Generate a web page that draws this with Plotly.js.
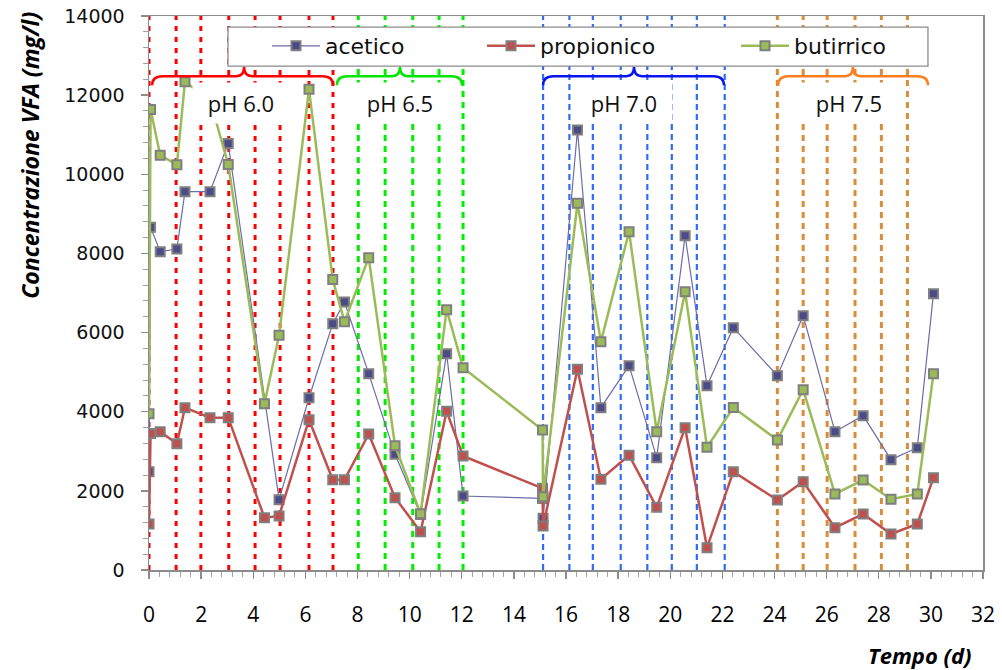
<!DOCTYPE html>
<html>
<head>
<meta charset="utf-8">
<script src="https://cdn.plot.ly/plotly-3.0.1.min.js"></script>
<style>html,body{margin:0;padding:0;background:#fff;}#chart{width:1002px;height:670px;}</style>
</head>
<body>
<div id="chart"></div>
<script>
// ---- data ----
var days = [0, 0.06, 0.43, 1.07, 1.38, 2.34, 3.04, 4.43, 4.99, 6.14, 7.05, 7.5, 8.43, 9.44, 10.42, 11.42, 12.05,
            15.1, 15.12, 16.44, 17.34, 18.42, 19.48, 20.57, 21.41, 22.42, 24.11, 25.1, 26.32, 27.4, 28.47, 29.48, 30.1];
var acetico = [2480, 8660, 8045, 8110, 9560, 9560, 10780, null, 1777, 4354, 6225, 6773, 4962, 2923, 1400, 5467, 1870,
               1810, 1306, 11120, 4102, 5163, 2839, 8449, 4658, 6124, 4911, 6427, 3496, 3900, 2788, 3091, 6983];
var propionico = [1163, 3450, 3495, 3192, 4102, 3849, 3849, 1322, 1365, 3798, 2280, 2280, 3437, 1828, 968, 4010, 2881,
                  2065, 1112, 5072, 2292, 2899, 1584, 3596, 564, 2485, 1769, 2232, 1070, 1415, 910, 1163, 2333];
var butirrico = [3950, 11640, 10480, 10243, 12340, 11880, 10250, 4203, 5931, 12148, 7340, 6275, 7893, 3142, 1424, 6579, 5113,
                 3538, 1852, 9267, 5770, 8550, 3496, 7034, 3101, 4107, 3285, 4557, 1921, 2274, 1787, 1921, 4961];

var seriesNames = ['acetico', 'propionico', 'butirrico'];

// pH phases: sampling-day dashed lines, brace spans, labels
var phaseLabels = ['pH 6.0', 'pH 6.5', 'pH 7.0', 'pH 7.5'];
var phaseLines = [
  [0, 1.04, 1.99, 3.06, 4.07, 5.03, 6.14, 7.06],
  [8.03, 9.06, 10.12, 11.13, 12.05],
  [15.12, 16.13, 17.03, 18.1, 19.12, 20.06, 21.02, 22.09],
  [24.11, 25.1, 26.02, 27.09, 28.1, 29.1]
];
var braceStart = [0.12, 7.21, 15.12, 24.14];
var braceEnd = [7.06, 12.01, 22.06, 29.89];
var braceMid = [3.65, 9.63, 18.61, 27.01];
var labelX = [3.53, 9.63, 18.23, 26.86];

// ---- styles ----
var lineColors = ['#FF0000', '#00EE00', '#2F6BF7', '#D98D3C'];
var lineDash = ['5px,6px', '6px,5px', '6px,4px', '6px,5px'];
var lineWidth = [3, 3, 2.2, 3];
var braceColors = ['#FF0000', '#00E600', '#0A14F0', '#FF7F1E'];

var markerFill = ['#4B4B8A', '#C0504D', '#9BBB59'];
var traceLine = ['#6C6CA8', '#C0504D', '#9BBB59'];
var traceWidth = [1.2, 2.5, 2.5];
var vals = [acetico, propionico, butirrico];
var legendIds = ['legend', 'legend2', 'legend3'];

var traces = seriesNames.map(function (n, i) {
  return {
    type: 'scatter', mode: 'lines+markers', name: n,
    x: days, y: vals[i], connectgaps: true,
    legend: legendIds[i],
    line: {color: traceLine[i], width: traceWidth[i]},
    marker: {symbol: 'square', size: 9, color: markerFill[i], line: {color: '#7F7F7F', width: 2}}
  };
});

var shapes = [];
phaseLines.forEach(function (arr, p) {
  arr.forEach(function (d) {
    shapes.push({type: 'line', xref: 'x', yref: 'paper', x0: d, x1: d, y0: 0, y1: 1, layer: 'between',
      line: {color: lineColors[p], width: lineWidth[p], dash: lineDash[p]}});
  });
});

function bracePath(x0, x1, xm) {
  var yE = 12250, yM = 12480, yP = 12710, r = 0.4, rp = 0.3;
  return 'M' + x0 + ',' + yE +
    ' Q' + x0 + ',' + yM + ' ' + (x0 + r) + ',' + yM +
    ' L' + (xm - rp) + ',' + yM +
    ' Q' + xm + ',' + yM + ' ' + xm + ',' + yP +
    ' Q' + xm + ',' + yM + ' ' + (xm + rp) + ',' + yM +
    ' L' + (x1 - r) + ',' + yM +
    ' Q' + x1 + ',' + yM + ' ' + x1 + ',' + yE;
}
for (var p = 0; p < 4; p++) {
  shapes.push({type: 'path', xref: 'x', yref: 'y', layer: 'above',
    path: bracePath(braceStart[p], braceEnd[p], braceMid[p]),
    line: {color: braceColors[p], width: 2.5}});
}
// legend frame
shapes.push({type: 'rect', xref: 'paper', yref: 'paper', x0: 0.0947, x1: 0.934, y0: 0.9097, y1: 0.980,
  fillcolor: '#FFFFFF', layer: 'above', line: {color: '#8C8C8C', width: 1.3}});

var annotations = phaseLabels.map(function (t, p) {
  return {text: t, x: labelX[p], y: 11800, xref: 'x', yref: 'y', showarrow: false,
    bgcolor: '#FFFFFF', width: 96, height: 40, borderpad: 0,
    font: {family: 'Open Sans, sans-serif', size: 22, color: '#111'}};
});
annotations.push({text: '<b><i>Concentrazione VFA (mg/l)</i></b>', xref: 'paper', yref: 'paper',
  x: -0.143, y: 0.749, xanchor: 'center', yanchor: 'middle', textangle: -90, showarrow: false,
  font: {family: 'Open Sans, sans-serif', size: 23, color: '#000'}});
annotations.push({text: '<b><i>Tempo (d)</i></b>', xref: 'paper', yref: 'paper',
  x: 0.925, y: -0.153, xanchor: 'center', yanchor: 'middle', showarrow: false,
  font: {family: 'Open Sans, sans-serif', size: 22, color: '#000'}});

var legFont = {family: 'DejaVu Sans, sans-serif', size: 22, color: '#111'};
function leg(xpx) {
  return {x: (xpx - 149) / 834, y: (570 - 46) / 554, xanchor: 'left', yanchor: 'middle',
    orientation: 'h', itemwidth: 48, bgcolor: 'rgba(0,0,0,0)', borderwidth: 0, font: legFont};
}

var layout = {
  width: 1002, height: 670,
  margin: {l: 149, r: 19, t: 16, b: 100},
  paper_bgcolor: '#FFFFFF', plot_bgcolor: '#FFFFFF',
  showlegend: true,
  legend: leg(267), legend2: leg(482), legend3: leg(736),
  xaxis: {range: [0, 32], dtick: 2, tick0: 0, showgrid: false, zeroline: false,
    showline: true, linecolor: '#8C8C8C', linewidth: 1.5, mirror: true,
    ticks: 'outside', ticklen: 7, tickcolor: '#8C8C8C', tickwidth: 1.3, ticklabelstandoff: 18,
    minor: {dtick: 0.4, ticks: 'outside', ticklen: 5, tickcolor: '#A0A0A0', tickwidth: 1},
    tickfont: {family: 'Open Sans, sans-serif', size: 21, color: '#000'}},
  yaxis: {range: [0, 14000], dtick: 2000, tick0: 0, tickformat: 'd', showgrid: false, zeroline: false,
    showline: true, linecolor: '#8C8C8C', linewidth: 1.5, mirror: true,
    ticks: 'outside', ticklen: 7, tickcolor: '#8C8C8C', tickwidth: 1.3, ticklabelstandoff: 12,
    minor: {dtick: 400, ticks: 'outside', ticklen: 5, tickcolor: '#A0A0A0', tickwidth: 1},
    tickfont: {family: 'DejaVu Sans, sans-serif', size: 19, color: '#111'}},
  shapes: shapes,
  annotations: annotations
};

Plotly.newPlot('chart', traces, layout, {displayModeBar: false, staticPlot: true});
</script>
</body>
</html>
